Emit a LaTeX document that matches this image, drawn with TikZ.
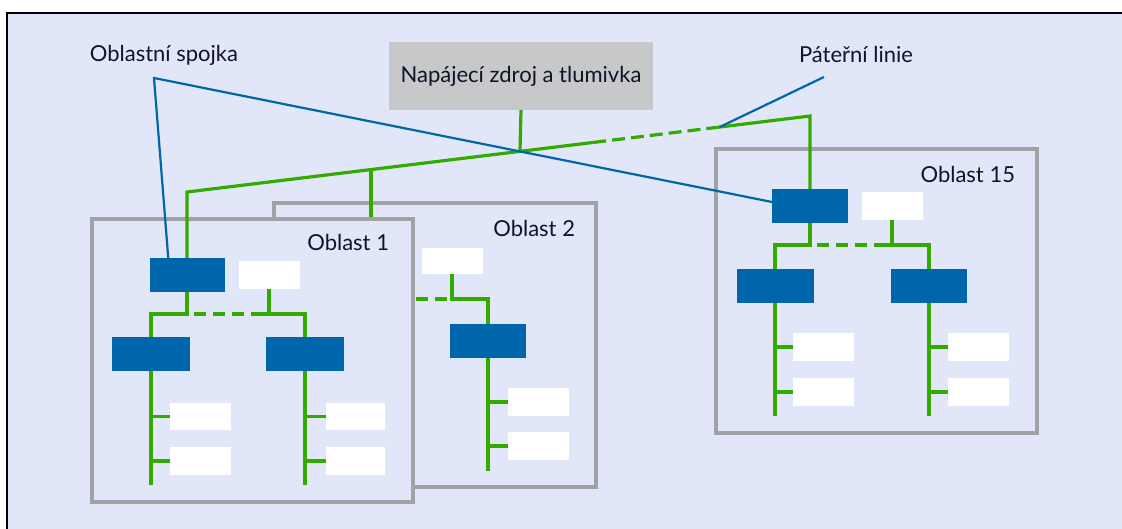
\documentclass[tikz,border=0pt]{standalone}
\usepackage{fontspec}
\setmainfont{Lato}
\usetikzlibrary{calc}
\definecolor{bgblue}{RGB}{225,231,248}
\definecolor{busgreen}{RGB}{51,170,0}
\definecolor{linkblue}{RGB}{0,102,172}
\definecolor{framegray}{RGB}{160,162,165}
\definecolor{boxgray}{RGB}{198,200,202}
\definecolor{txt}{RGB}{18,18,40}
\begin{document}
\begin{tikzpicture}[x=1pt,y=1pt, every node/.style={inner sep=0pt, outer sep=0pt, text=txt, font=\fontsize{22}{26}\selectfont}]
\tikzstyle{koppler}=[fill=linkblue, minimum width=76pt, minimum height=34pt]
\tikzstyle{ucast}=[fill=white, minimum width=61pt, minimum height=28pt]
\tikzstyle{bus}=[busgreen, line width=3.2pt]
\tikzstyle{carky}=[dash pattern=on 12pt off 7pt, dash phase=12pt]
\tikzstyle{spoj}=[linkblue, line width=2.2pt]
\tikzstyle{ramec}=[framegray, line width=3.4pt, fill=bgblue]
\useasboundingbox (0,0) rectangle (1122,-529);
\fill [white] (0,0) rectangle (1122,-529);
\draw [black, line width=1.8pt, fill=bgblue] (7,-13) rectangle (1140,-545);
% napajeni a popisky
\node [fill=boxgray, minimum width=264pt, minimum height=68pt] (napajeni) at (521,-76) {Napájecí zdroj a tlumivka};
\node (lblspojka) at (164,-55) {Oblastní spojka};
\node (lblpater) at (856,-54) {Páteřní linie};
\coordinate (bbL) at (187,-192);
\coordinate (bbR) at (810,-116);
% oblast 2
\draw [ramec] (274,-203) rectangle (596,-487);
\node [anchor=east] (o2) at (575,-228) {Oblast 2};
\node [ucast, minimum height=26pt] (u2) at (452,-261) {};
\node [koppler] (lk2) at (488,-341) {};
\node [ucast] (u2a) at (538.5,-402) {};
\node [ucast] (u2b) at (538.5,-446) {};
\draw [bus] (371,-169.5) -- (371,-240);
\draw [bus, carky] (371,-299) -- (452,-299);
\draw [bus] (u2.south) -- (452,-299) -| (lk2.north);
\draw [bus] (lk2.south) -- (488,-471);
\draw [bus] (u2a.west) -- (u2a -| lk2);
\draw [bus] (u2b.west) -- (u2b -| lk2);
% oblast 1
\draw [ramec] (92,-219) rectangle (413,-502);
\node [anchor=east] (o1) at (389,-242) {Oblast 1};
\node [koppler, minimum width=75pt] (s1) at (187,-275) {};
\node [ucast] (u1) at (269,-275) {};
\node [koppler, minimum width=78pt] (lk1a) at (151,-354) {};
\node [koppler, minimum width=78pt] (lk1b) at (305,-354) {};
\node [ucast, minimum height=27pt] (u1a) at (200.5,-416.5) {};
\node [ucast] (u1b) at (200.5,-461) {};
\node [ucast, minimum width=59pt, minimum height=27pt] (u1c) at (355.5,-416.5) {};
\node [ucast, minimum width=59pt] (u1d) at (355.5,-461) {};
\draw [bus] (s1.south) -- (187,-314) -| (lk1a.north);
\draw [bus, carky] (187,-314) -- (262,-314);
\draw [bus] (262,-314) -| (lk1b.north);
\draw [bus] (u1.south) -- (269,-314);
\draw [bus] (lk1a.south) -- (151,-485);
\draw [bus] (lk1b.south) -- (305,-485);
\draw [bus] (u1a.west) -- (u1a -| lk1a);
\draw [bus] (u1b.west) -- (u1b -| lk1a);
\draw [bus] (u1c.west) -- (u1c -| lk1b);
\draw [bus] (u1d.west) -- (u1d -| lk1b);
% oblast 15
\draw [ramec] (716,-149) rectangle (1037,-433);
\node [anchor=east] (o15) at (1015,-174) {Oblast 15};
\node [koppler] (s15) at (810,-206) {};
\node [ucast] (u15) at (892,-206) {};
\node [koppler, minimum width=77pt] (lk15a) at (775,-286) {};
\node [koppler] (lk15b) at (929,-286) {};
\node [ucast] (u15a) at (823.5,-347) {};
\node [ucast] (u15b) at (823.5,-392) {};
\node [ucast] (u15c) at (978.5,-347) {};
\node [ucast] (u15d) at (978.5,-392) {};
\draw [bus] (s15.south) -- (810,-245) -| (lk15a.north);
\draw [bus, carky] (810,-245) -- (886,-245);
\draw [bus] (886,-245) -| (lk15b.north);
\draw [bus] (u15.south) -- (892,-245);
\draw [bus] (lk15a.south) -- (775,-416);
\draw [bus] (lk15b.south) -- (929,-416);
\draw [bus] (u15a.west) -- (u15a -| lk15a);
\draw [bus] (u15b.west) -- (u15b -| lk15a);
\draw [bus] (u15c.west) -- (u15c -| lk15b);
\draw [bus] (u15d.west) -- (u15d -| lk15b);
% pater
\draw [bus] (s1.north) -- (bbL) -- ($(bbL)!0.652!(bbR)$);
\draw [bus, dash pattern=on 13pt off 6pt] ($(bbL)!0.652!(bbR)$) -- ($(bbL)!0.852!(bbR)$);
\draw [bus] ($(bbL)!0.852!(bbR)$) -- (bbR) -- (s15.north);
\draw [bus] (napajeni.south) -- ($(bbL)!0.5345!(bbR)$);
% oblastni spojky
\coordinate (sp) at (154,-78);
\coordinate (pp) at (824,-77);
\draw [spoj] ($(s1.north west)!0.25!(s1.north east)$) -- (sp) -- ($(s15.west)+(0,4)$);
\draw [spoj] (pp) -- ($(bbL)!0.855!(bbR)$);
\end{tikzpicture}
\end{document}
